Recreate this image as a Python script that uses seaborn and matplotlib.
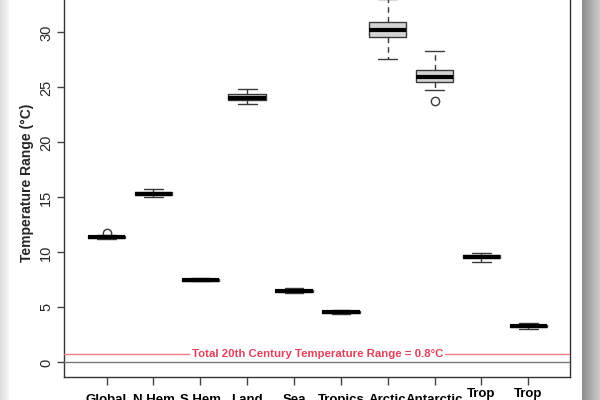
import numpy as np
import pandas as pd
import matplotlib
matplotlib.use("Agg")
import matplotlib.pyplot as plt
import seaborn as sns

regions = ["Global", "N Hem", "S Hem", "Land", "Sea", "Tropics",
           "Arctic", "Antarctic", "Trop\nLand", "Trop\nSea"]
whisker_low = [11.22, 15.02, 7.36, 23.45, 6.32, 4.36, 27.60, 24.78, 9.15, 3.05]
q1 = [11.35, 15.20, 7.44, 23.82, 6.42, 4.47, 29.55, 25.50, 9.48, 3.22]
median = [11.42, 15.32, 7.50, 24.05, 6.50, 4.57, 30.20, 25.96, 9.60, 3.30]
q3 = [11.47, 15.45, 7.56, 24.36, 6.58, 4.68, 30.96, 26.62, 9.72, 3.40]
whisker_high = [11.58, 15.78, 7.68, 24.85, 6.74, 4.80, 33.00, 28.27, 9.96, 3.57]
outliers = [[11.8], [], [], [], [], [], [], [23.73], [], []]
century_range = 0.8
y_ticks = [0, 5, 10, 15, 20, 25, 30]

# Build a sample for each region whose box statistics match the read-off values
rows = []
for i, r in enumerate(regions):
    vals = ([whisker_low[i]] + [q1[i]] * 20 + [median[i]] * 21 + [q3[i]] * 20
            + [whisker_high[i]] + outliers[i])
    rows += [(r, v) for v in vals]
df = pd.DataFrame(rows, columns=["region", "value"])

sns.set_theme(style="white")
plt.rcParams["font.family"] = ["Liberation Sans", "DejaVu Sans"]

fig = plt.figure(figsize=(6, 4), dpi=100)
fig.patch.set_facecolor("white")

# screenshot-like shadow edges
sh_l = fig.add_axes([0, 0, 0.015, 1])
sh_l.imshow(np.linspace(0.86, 0.97, 50)[None, :], cmap="gray", vmin=0, vmax=1,
            aspect="auto", extent=[0, 1, 0, 1])
sh_l.axis("off")
sh_r = fig.add_axes([0.970, 0, 0.030, 1])
sh_r.imshow(np.linspace(0.55, 0.80, 50)[None, :], cmap="gray", vmin=0, vmax=1,
            aspect="auto", extent=[0, 1, 0, 1])
sh_r.axis("off")

ax = fig.add_axes([0.107, 0.058, 0.843, 0.971])
box_w = 0.8
sns.boxplot(data=df, x="region", y="value", order=regions, ax=ax,
            width=box_w, color="#d3d3d3", saturation=1, linecolor="#3a3a3a",
            linewidth=1.0,
            whiskerprops=dict(linestyle=(0, (4, 3)), color="#3a3a3a"),
            capprops=dict(color="#3a3a3a"),
            medianprops=dict(color="black", linewidth=3),
            flierprops=dict(marker="o", markerfacecolor="none",
                            markeredgecolor="#3a3a3a", markersize=6,
                            markeredgewidth=1))

# make whisker caps half the box width (R style staples)
for ln in ax.lines:
    xd = np.asarray(ln.get_xdata(), dtype=float)
    yd = np.asarray(ln.get_ydata(), dtype=float)
    if len(xd) == 2 and yd[0] == yd[1] and ln.get_linewidth() < 2 and xd[0] != xd[1]:
        c = xd.mean()
        ln.set_xdata([c - box_w / 4, c + box_w / 4])

ax.axhline(0, color="#777777", lw=1, zorder=5)
ax.axhline(century_range, color="#f07a86", lw=1, zorder=3)
ax.text(4.5, century_range,
        f"Total 20th Century Temperature Range = {century_range}°C",
        color="#e0405c", fontsize=8.2, fontweight="bold", ha="center",
        va="center", zorder=4,
        bbox=dict(facecolor="white", edgecolor="none", pad=1.5))

ax.set_xlim(-0.905, 9.89)
ax.set_ylim(-1.31, 34.0)
ax.set_yticks(y_ticks)
ax.set_yticklabels([str(t) for t in y_ticks], rotation=90, va="center",
                   fontsize=10.5)
ax.set_xticks(range(len(regions)))
ax.set_xticklabels(regions, fontsize=9.5, fontweight="bold", va="center",
                   linespacing=1.0)
ax.tick_params(axis="x", length=6, width=1, color="#444444", pad=11,
               bottom=True, labelcolor="black")
ax.tick_params(axis="y", length=5, width=1, color="#444444", pad=3,
               left=True)
ax.set_xlabel("")
ax.set_ylabel("Temperature Range (°C)", fontsize=10, fontweight="bold",
              labelpad=4)
for s in ax.spines.values():
    s.set_color("#333333")
    s.set_linewidth(1)
    s.set_visible(True)

fig.savefig("out.png", dpi=100)
